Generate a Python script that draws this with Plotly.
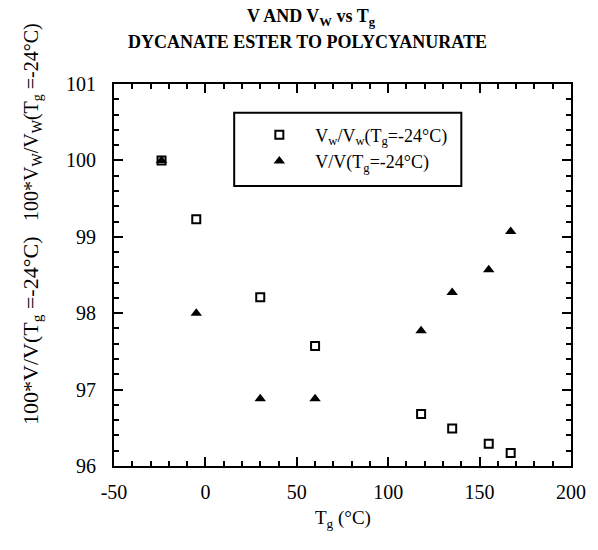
import plotly.graph_objects as go

tg = [-24, -5, 30, 60, 118, 135, 155, 167]
vw_ratio = [100.0, 99.23, 98.21, 97.57, 96.68, 96.49, 96.29, 96.17]
v_ratio = [100.0, 98.0, 96.88, 96.88, 97.77, 98.27, 98.57, 99.07]

x_ticks = [-50, 0, 50, 100, 150, 200]
x_ticklabels = ["-50", "0", "50", "100", "150", "200"]
y_ticks = [96, 97, 98, 99, 100, 101]
y_ticklabels = ["96", "97", "98", "99", "100", "101"]

name_vw = "V<sub>w</sub>/V<sub>w</sub>(T<sub>g</sub>=-24°C)"
name_v = "V/V(T<sub>g</sub>=-24°C)"
title_line1 = "<b>V AND V<sub>W</sub> vs T<sub>g</sub></b>"
title_line2 = "<b>DYCANATE ESTER TO POLYCYANURATE</b>"
x_title = "T<sub>g</sub> (°C)"
y_title_top = "100*V<sub>W</sub>/V<sub>W</sub>(T<sub>g</sub> =-24°C)"
y_title_bot = "100*V/V(T<sub>g</sub> =-24°C)"

FONT = "Liberation Serif, Times New Roman, serif"

fig = go.Figure()
fig.add_trace(go.Scatter(
    x=tg, y=vw_ratio, mode="markers", name=name_vw,
    marker=dict(symbol="square-open", size=8, color="black", line=dict(width=2, color="black")),
))
fig.add_trace(go.Scatter(
    x=tg, y=v_ratio, mode="markers", name=name_v,
    marker=dict(symbol="triangle-up", size=10, color="black", line=dict(width=0)),
))

axis_common = dict(
    showgrid=False, zeroline=False, showline=True, linecolor="black", linewidth=2,
    mirror="ticks", ticks="inside", ticklen=9, tickwidth=2, tickcolor="black",
    tickfont=dict(family=FONT, size=20, color="black"),
)

fig.update_xaxes(
    range=[-50, 200], tickmode="array", tickvals=x_ticks, ticktext=x_ticklabels,
    minor=dict(dtick=10, tick0=-50, ticks="inside", ticklen=5, tickwidth=1.5, tickcolor="black"),
    ticklabelstandoff=7,
    **axis_common,
)
fig.update_yaxes(
    range=[96, 101], tickmode="array", tickvals=y_ticks, ticktext=y_ticklabels,
    minor=dict(dtick=0.2, tick0=96, ticks="inside", ticklen=5, tickwidth=1.5, tickcolor="black"),
    ticklabelstandoff=12,
    **axis_common,
)

fig.add_shape(type="rect", xref="paper", yref="paper",
              x0=0.263, x1=0.760, y0=0.733, y1=0.925,
              line=dict(color="black", width=2), fillcolor="rgba(0,0,0,0)")

fig.add_annotation(text=title_line1, xref="paper", yref="paper", x=0.433, y=1.173,
                   xanchor="center", yanchor="middle", showarrow=False,
                   font=dict(family=FONT, size=18, color="black"))
fig.add_annotation(text=title_line2, xref="paper", yref="paper", x=0.424, y=1.11,
                   xanchor="center", yanchor="middle", showarrow=False,
                   font=dict(family=FONT, size=18, color="black"))

fig.add_annotation(text=x_title, xref="paper", yref="paper", x=0.5, y=-0.14,
                   xanchor="center", yanchor="middle", showarrow=False,
                   font=dict(family=FONT, size=19, color="black"))
fig.add_annotation(text=y_title_top, xref="paper", yref="paper", x=-0.18, y=0.9,
                   xanchor="center", yanchor="middle", showarrow=False, textangle=-90,
                   font=dict(family=FONT, size=20, color="black"))
fig.add_annotation(text=y_title_bot, xref="paper", yref="paper", x=-0.18, y=0.353,
                   xanchor="center", yanchor="middle", showarrow=False, textangle=-90,
                   font=dict(family=FONT, size=22, color="black"))

fig.update_layout(
    width=598, height=550,
    margin=dict(l=114, r=17, t=84, b=84),
    paper_bgcolor="white", plot_bgcolor="white",
    legend=dict(x=0.283, y=0.915, xanchor="left", yanchor="top",
                bgcolor="rgba(0,0,0,0)", borderwidth=0,
                font=dict(family=FONT, size=18, color="black"),
                itemwidth=62, tracegroupgap=0),
    showlegend=True,
)

fig.write_html("out.html")
